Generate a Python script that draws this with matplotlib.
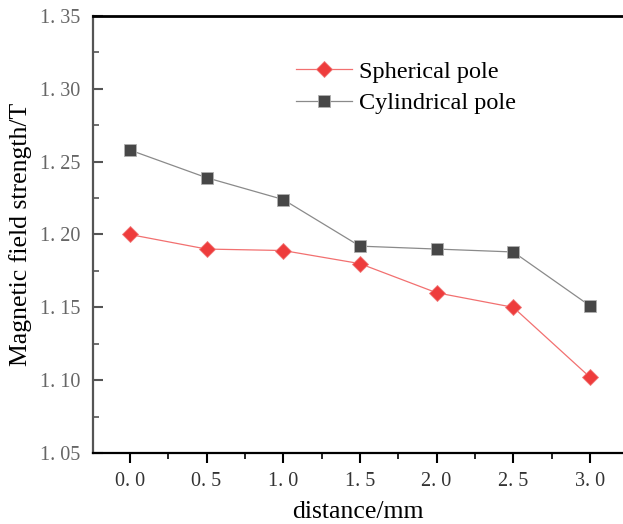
import matplotlib.pyplot as plt
from matplotlib.ticker import FuncFormatter, MultipleLocator

# data
distance = [0.0, 0.5, 1.0, 1.5, 2.0, 2.5, 3.0]
spherical = [1.200, 1.190, 1.189, 1.180, 1.160, 1.150, 1.102]
cylindrical = [1.258, 1.239, 1.224, 1.192, 1.190, 1.188, 1.151]
series_names = ["Spherical pole", "Cylindrical pole"]

serif = ["Liberation Serif", "DejaVu Serif"]


def wide_fmt(decimals):
    # mimic the full-width period of the original tick font
    def f(v, pos):
        return f"{v:.{decimals}f}".replace(".", ". ")
    return FuncFormatter(f)


fig = plt.figure(figsize=(6.23, 5.24), dpi=100)
ax = fig.add_axes([0.149, 0.1355, 0.851, 0.834])

ax.plot(distance, spherical, color="#f27070", lw=0.9, marker="D", ms=8,
        mfc="#ee3c3c", mec="#f07a7a", mew=0.6, label=series_names[0])
ax.plot(distance, cylindrical, color="#8a8a8a", lw=0.9, marker="s", ms=8,
        mfc="#474747", mec="#b0b0b0", mew=0.6, label=series_names[1])

ax.set_xlim(-0.241, 3.215)
ax.set_ylim(1.05, 1.35)
ax.xaxis.set_major_locator(MultipleLocator(0.5))
ax.xaxis.set_minor_locator(MultipleLocator(0.25))
ax.yaxis.set_major_locator(MultipleLocator(0.05))
ax.yaxis.set_minor_locator(MultipleLocator(0.025))
ax.xaxis.set_major_formatter(wide_fmt(1))
ax.yaxis.set_major_formatter(wide_fmt(2))

ax.spines["right"].set_visible(False)
ax.spines["top"].set_linewidth(2.0)
ax.spines["bottom"].set_linewidth(1.6)
ax.spines["left"].set_linewidth(1.6)
ax.spines["left"].set_color("#555555")

ax.tick_params(axis="x", which="major", direction="out", length=7, width=1.5,
               colors="black", labelsize=14.5, pad=7)
ax.tick_params(axis="x", which="minor", direction="out", length=4, width=1.2)
ax.tick_params(axis="y", which="major", direction="in", length=7, width=1.5,
               colors="#555555", labelsize=14.5, pad=9)
ax.tick_params(axis="y", which="minor", direction="in", length=4, width=1.2,
               colors="#555555")
ax.tick_params(axis="y", labelcolor="#666666")
ax.tick_params(axis="x", labelcolor="#333333")
for lab in ax.get_xticklabels() + ax.get_yticklabels():
    lab.set_family(serif)

ax.set_xlabel("distance/mm", fontsize=18.5, family=serif, labelpad=7)
ax.set_ylabel("Magnetic field strength/T", fontsize=18.5, family=serif, labelpad=6)

leg = ax.legend(loc="upper left", bbox_to_anchor=(0.342, 0.948), frameon=False,
                prop={"family": serif, "size": 17.5}, handlelength=2.3,
                handletextpad=0.3, labelspacing=0.4, markerscale=1.0)

fig.savefig("out.png", dpi=100)
